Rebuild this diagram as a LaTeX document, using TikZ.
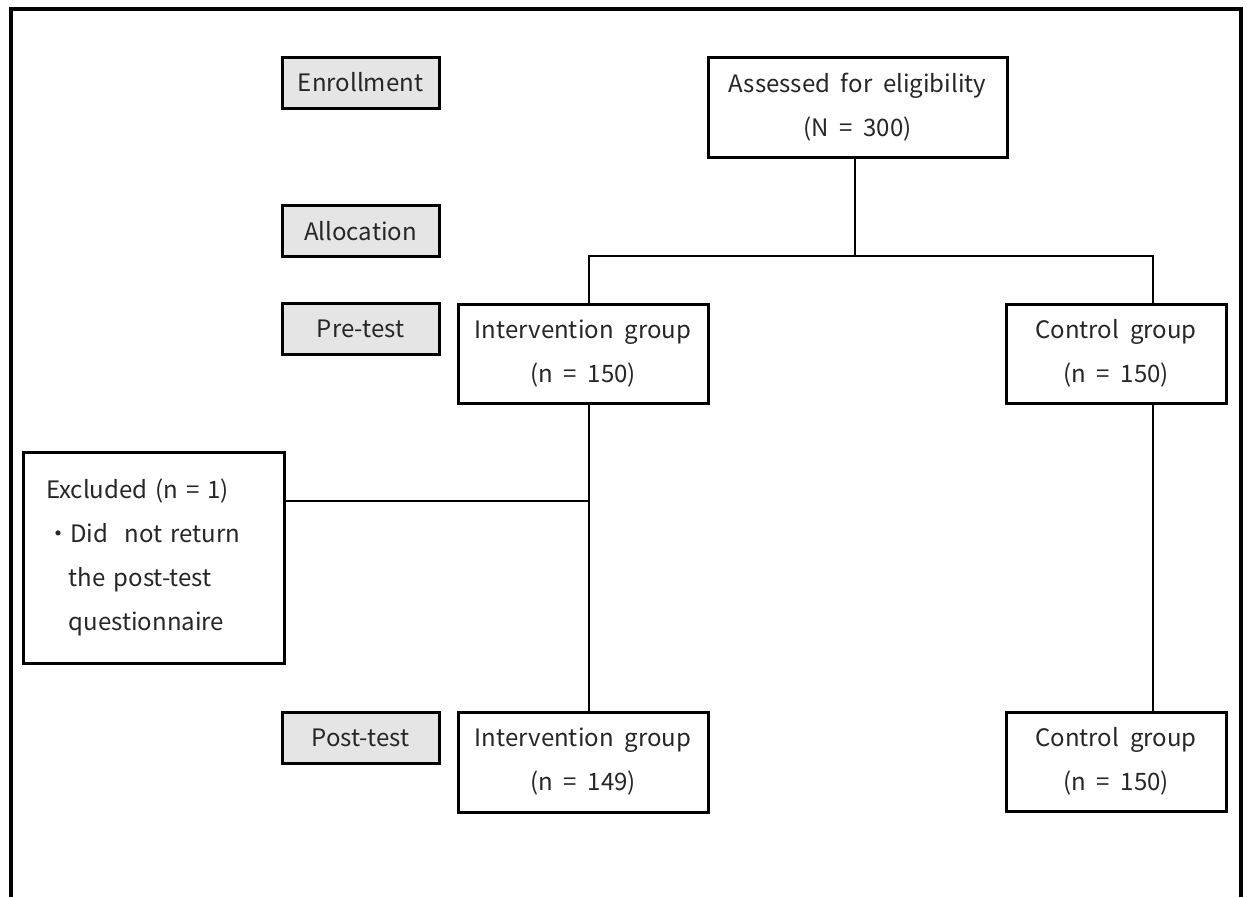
\documentclass[tikz,border=0pt]{standalone}
\usepackage{fontspec}
\setmainfont{Noto Sans CJK JP}[WordSpace=2]
\begin{document}
\begin{tikzpicture}[x=1pt,y=-1pt,
  box/.style={draw=black, line width=3pt, fill=white, align=center, inner sep=0pt,
    font=\fontsize{24}{44}\selectfont, text=black!85},
  stage/.style={box, fill=gray!20, minimum width=157pt, minimum height=51pt},
  conn/.style={line width=2.5pt},
  frame/.style={line width=4pt}
  ]
\useasboundingbox (0,0) rectangle (1247,897);
\fill[white] (0,0) rectangle (1247,897);
\draw[frame] (10.5,897) -- (10.5,9) -- (1241,9) -- (1241,897);

% stage labels
\node[stage] (enr) at (360.5,82.5) {Enrollment};
\node[stage] (alloc) at (360.5,231) {Allocation};
\node[stage] (pre) at (360.5,329) {Pre-test};
\node[stage] (post) at (360.5,737.5) {Post-test};

% main boxes
\node[box, minimum width=299pt, minimum height=100pt] (assess) at (857.5,107) {Assessed for eligibility\\(N = 300)};
\node[box, minimum width=250pt, minimum height=99pt] (intpre) at (583,353.5) {Intervention group\\(n = 150)};
\node[box, minimum width=220pt, minimum height=99pt] (ctlpre) at (1116,353.5) {Control group\\(n = 150)};
\node[box, minimum width=250pt, minimum height=100pt] (intpost) at (583,762) {Intervention group\\(n = 149)};
\node[box, minimum width=220pt, minimum height=99pt] (ctlpost) at (1116,761.5) {Control group\\(n = 150)};
\node[box, minimum width=261pt, minimum height=211pt, text width=215pt, align=left] (excl) at (153.5,557.5)
  {Excluded (n = 1)\\・Did\hspace{0.7em}not return\\\hspace*{0.95em}the post-test\\\hspace*{0.95em}questionnaire};

% connectors
\coordinate (brL) at (589,256);
\coordinate (brR) at (1153,256);
\coordinate (jn) at (589,501);
\draw[conn] (assess.south -| 855,0) -- (855,256);
\draw[conn] (intpre.north -| brL) -- (brL) -- (brR) -- (ctlpre.north -| brR);
\draw[conn] (intpre.south -| brL) -- (intpost.north -| brL);
\draw[conn] (excl.east |- jn) -- (jn);
\draw[conn] (ctlpre.south -| brR) -- (ctlpost.north -| brR);
\end{tikzpicture}
\end{document}
